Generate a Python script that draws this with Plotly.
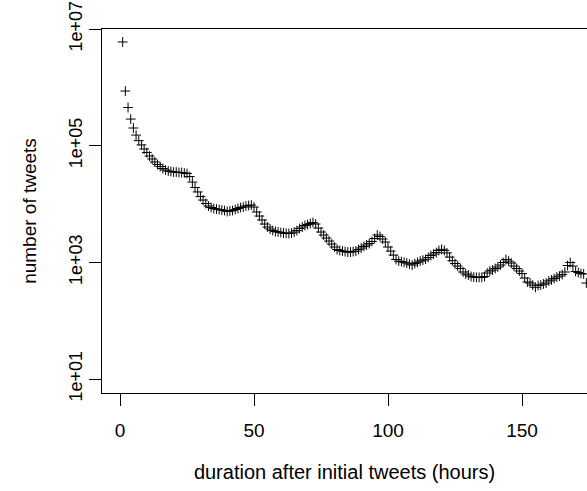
import plotly.graph_objects as go

hours = list(range(1, 175))
tweets = [
    6000000, 865000, 451000, 286000, 201000, 152000, 122000, 103000, 87700, 76300,
    66500, 59100, 52500, 47500, 43900, 40600, 38300, 36800, 36100, 35300,
    35300, 34700, 34700, 34000, 33300, 29600, 23800, 19200, 16100, 13400,
    11700, 10200, 9240, 8710, 8370, 8200, 8050, 7890, 7730, 7430,
    7590, 7730, 8050, 8370, 8710, 8870, 9240, 9420, 9610, 8870,
    7290, 6220, 5320, 4540, 4030, 3720, 3510, 3380, 3310, 3240,
    3180, 3140, 3120, 3180, 3310, 3510, 3800, 4030, 4280, 4450,
    4630, 4820, 4540, 3870, 3310, 2940, 2610, 2320, 2060, 1830,
    1660, 1600, 1560, 1530, 1500, 1500, 1530, 1560, 1660, 1760,
    1870, 1980, 2100, 2280, 2560, 2940, 2770, 2510, 2230, 1830,
    1560, 1330, 1120, 1050, 1030, 1000, 973, 935, 899, 955,
    1000, 1050, 1090, 1130, 1210, 1310, 1390, 1470, 1600, 1670,
    1600, 1450, 1230, 1070, 955, 864, 784, 683, 631, 607,
    571, 560, 553, 553, 553, 571, 656, 710, 738, 784,
    832, 899, 993, 1120, 1050, 973, 864, 784, 710, 643,
    538, 460, 442, 408, 373, 401, 408, 425, 442, 479,
    498, 528, 560, 582, 618, 683, 883, 993, 864, 697,
    668, 643, 631, 442,
]

x_ticks = [0, 50, 100, 150]
y_ticks = [1e1, 1e3, 1e5, 1e7]
y_tick_labels = ["1e+01", "1e+03", "1e+05", "1e+07"]

FONT = "Liberation Sans, Arial, Helvetica, sans-serif"

fig = go.Figure(
    go.Scatter(
        x=hours,
        y=tweets,
        mode="markers",
        marker=dict(symbol="cross-thin", size=7, color="black",
                    line=dict(color="black", width=1)),
        cliponaxis=True,
        showlegend=False,
    )
)

fig.update_layout(
    width=587,
    height=491,
    margin=dict(l=102, r=0, t=29, b=98, autoexpand=False),
    paper_bgcolor="white",
    plot_bgcolor="white",
    font=dict(family=FONT, size=18, color="black"),
)

fig.update_xaxes(
    automargin=False,
    range=[-6.716, 174.25],
    tickmode="array",
    tickvals=x_ticks,
    ticktext=[str(v) for v in x_ticks],
    tickfont=dict(size=19),
    ticks="outside",
    ticklen=12,
    tickwidth=1,
    tickcolor="black",
    ticklabelstandoff=8,
    showline=True,
    linecolor="black",
    linewidth=1,
    mirror=True,
    showgrid=False,
    zeroline=False,
    title=dict(text="duration after initial tweets (hours)", standoff=25,
               font=dict(size=20)),
)

fig.update_yaxes(
    automargin=False,
    type="log",
    range=[0.76, 7.0005],
    tickmode="array",
    tickvals=y_ticks,
    ticktext=y_tick_labels,
    tickfont=dict(size=18),
    tickangle=-90,
    ticks="outside",
    ticklen=12,
    tickwidth=1,
    tickcolor="black",
    ticklabelstandoff=0,
    ticklabeloverflow="allow",
    showline=True,
    linecolor="black",
    linewidth=1,
    mirror=False,
    showgrid=False,
    zeroline=False,
    title=dict(text="number of tweets", standoff=24, font=dict(size=19)),
)

fig.write_html(
    "out.html",
    config={"displayModeBar": False},
    post_script="document.body.style.margin='0px';document.body.style.overflow='hidden';",
)
